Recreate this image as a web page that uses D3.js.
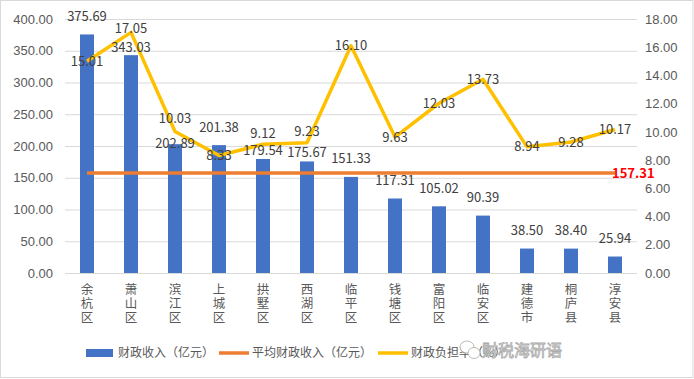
<!DOCTYPE html>
<html>
<head>
<meta charset="utf-8">
<script src="https://cdn.jsdelivr.net/npm/d3@7"></script>
<style>
  body { margin: 0; background: #fff; }
  svg { display: block; font-family: "Noto Sans CJK SC", "Noto Sans", sans-serif; }
</style>
</head>
<body>
<script>
// data
const districts = ["余杭区", "萧山区", "滨江区", "上城区", "拱墅区", "西湖区", "临平区", "钱塘区", "富阳区", "临安区", "建德市", "桐庐县", "淳安县"];
const revenue = [375.69, 343.03, 202.89, 201.38, 179.54, 175.67, 151.33, 117.31, 105.02, 90.39, 38.50, 38.40, 25.94];
const burden = [15.01, 17.05, 10.03, 8.33, 9.12, 9.23, 16.10, 9.63, 12.03, 13.73, 8.94, 9.28, 10.17];
const avgRevenue = 157.31;
const leftTicks = [0, 50, 100, 150, 200, 250, 300, 350, 400];
const rightTicks = [0, 2, 4, 6, 8, 10, 12, 14, 16, 18];
const legendNames = ["财政收入（亿元）", "平均财政收入（亿元）", "财政负担率（%）"];

// label lifts (px above the mark), tuned by eye
const barLift = [18, 8, 1, 18, 9, 9, 18, 18, 18, 18, 18, 18, 18];
const lineLift = [0, 4, 13, 0, 11, 11, 0, 0, 0, 0, 0, 0, 0];

const W = 694, H = 379;
const margin = { top: 19, right: 57, bottom: 106, left: 65 }
    , width = W - margin.left - margin.right
    , height = H - margin.top - margin.bottom;

const svg = d3.select("body").append("svg")
    .attr("width", W)
    .attr("height", H);

svg.append("rect")
    .attr("x", 0.5).attr("y", 0.5)
    .attr("width", W - 1.5).attr("height", H - 2)
    .attr("fill", "#fff").attr("stroke", "#d9d9d9");

const g = svg.append("g")
    .attr("transform", "translate(" + margin.left + "," + margin.top + ")");

const x = d3.scaleBand()
    .domain(districts)
    .range([0, width]);

const y = d3.scaleLinear().domain([0, 400]).range([height, 0]);
const yR = d3.scaleLinear().domain([0, 18]).range([height, 0]);

// gridlines
g.append("g").selectAll("line")
    .data(leftTicks)
    .join("line")
    .attr("x1", 0).attr("x2", width)
    .attr("y1", d => y(d) + 0.5).attr("y2", d => y(d) + 0.5)
    .attr("stroke", "#d9d9d9").attr("stroke-width", 1);

// left axis
const axL = g.append("g")
    .call(d3.axisLeft(y).tickValues(leftTicks).tickFormat(d3.format(".2f")).tickSize(0).tickPadding(12));
axL.select(".domain").remove();
axL.selectAll("text").attr("fill", "#595959").attr("font-size", 13);

// right axis
const axR = g.append("g")
    .attr("transform", "translate(" + width + ",0)")
    .call(d3.axisRight(yR).tickValues(rightTicks).tickFormat(d3.format(".2f")).tickSize(0).tickPadding(8));
axR.select(".domain").remove();
axR.selectAll("text").attr("fill", "#595959").attr("font-size", 13);

// bars
const bw = 14;
g.append("g").selectAll("rect")
    .data(revenue)
    .join("rect")
    .attr("x", (d, i) => x(districts[i]) + x.bandwidth() / 2 - bw / 2)
    .attr("y", d => y(d))
    .attr("width", bw)
    .attr("height", d => height - y(d))
    .attr("fill", "#4472C4");

// category labels, written top to bottom
g.append("g").selectAll("text")
    .data(districts)
    .join("text")
    .attr("x", d => x(d) + x.bandwidth() / 2)
    .attr("y", height + 10)
    .style("writing-mode", "vertical-rl")
    .attr("letter-spacing", 1.5)
    .attr("font-size", 12.5)
    .attr("fill", "#595959")
    .text(d => d);

// average line
const avgLine = d3.line()
    .x(d => x(d) + x.bandwidth() / 2)
    .y(() => y(avgRevenue));
g.append("path")
    .datum(districts)
    .attr("d", avgLine)
    .attr("fill", "none")
    .attr("stroke", "#ED7D31")
    .attr("stroke-width", 3.5);

g.append("text")
    .attr("x", x(districts[districts.length - 1]) + x.bandwidth() / 2 - 3)
    .attr("y", y(avgRevenue))
    .attr("dy", "0.35em")
    .attr("font-size", 13)
    .attr("font-weight", "bold")
    .attr("fill", "#FF0000")
    .text(avgRevenue.toFixed(2));

// burden line
const line = d3.line()
    .x((d, i) => x(districts[i]) + x.bandwidth() / 2)
    .y(d => yR(d));
g.append("path")
    .datum(burden)
    .attr("d", line)
    .attr("fill", "none")
    .attr("stroke", "#FFC000")
    .attr("stroke-width", 3.5)
    .attr("stroke-linejoin", "round");

// bar labels
g.append("g").selectAll("text")
    .data(revenue)
    .join("text")
    .attr("x", (d, i) => x(districts[i]) + x.bandwidth() / 2)
    .attr("y", (d, i) => y(d) - barLift[i])
    .attr("dy", "0.35em")
    .attr("text-anchor", "middle")
    .attr("font-size", 13)
    .attr("fill", "#404040")
    .text(d => d.toFixed(2));

// line labels
g.append("g").selectAll("text")
    .data(burden)
    .join("text")
    .attr("x", (d, i) => x(districts[i]) + x.bandwidth() / 2)
    .attr("y", (d, i) => yR(d) - lineLift[i])
    .attr("dy", "0.35em")
    .attr("text-anchor", "middle")
    .attr("font-size", 13)
    .attr("fill", "#404040")
    .text(d => d.toFixed(2));

// legend
const leg = svg.append("g").attr("transform", "translate(0,353)");
const legX = [86, 219, 378];
leg.append("rect").attr("x", legX[0]).attr("y", -4).attr("width", 27).attr("height", 8).attr("fill", "#4472C4");
leg.append("line").attr("x1", legX[1]).attr("x2", legX[1] + 30).attr("stroke", "#ED7D31").attr("stroke-width", 3.5);
leg.append("line").attr("x1", legX[2]).attr("x2", legX[2] + 30).attr("stroke", "#FFC000").attr("stroke-width", 3.5);
leg.selectAll("text.lg")
    .data(legendNames)
    .join("text")
    .attr("class", "lg")
    .attr("x", (d, i) => legX[i] + (i == 0 ? 32 : 33))
    .attr("dy", "0.35em")
    .attr("font-size", 12)
    .attr("fill", "#595959")
    .text(d => d);

// watermark
const wm = svg.append("g").attr("fill", "#fff").attr("stroke", "#aaa").attr("stroke-width", 0.8);
wm.append("ellipse").attr("cx", 467).attr("cy", 347).attr("rx", 7).attr("ry", 6);
wm.append("ellipse").attr("cx", 474).attr("cy", 353).attr("rx", 6).attr("ry", 5.5);
wm.append("text")
    .attr("x", 482).attr("y", 350).attr("dy", "0.35em")
    .attr("font-size", 16)
    .text("财税海研语");
</script>
</body>
</html>
